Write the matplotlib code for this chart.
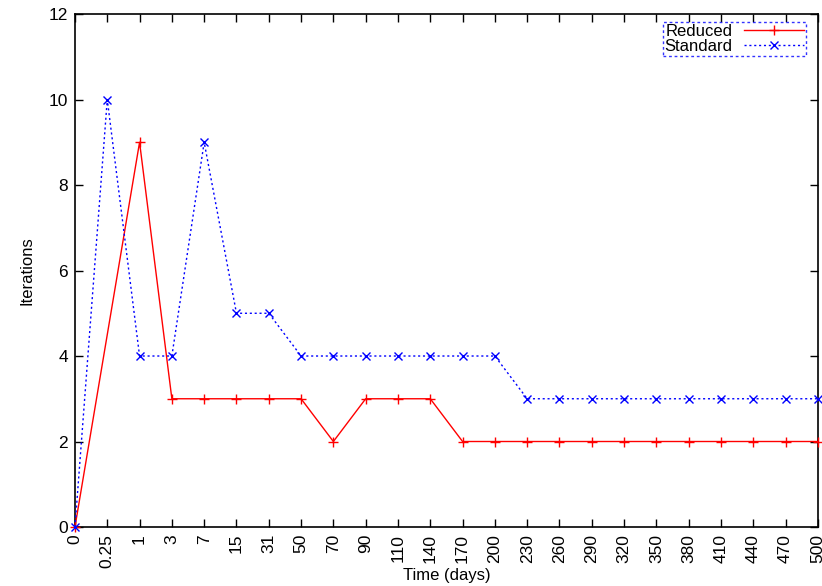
import numpy as np
import matplotlib
matplotlib.use("Agg")
from matplotlib import pyplot as plt

plt.rcParams['font.family'] = ['Liberation Sans', 'DejaVu Sans']

days = ["0", "0.25", "1", "3", "7", "15", "31", "50", "70", "90", "110", "140",
        "170", "200", "230", "260", "290", "320", "350", "380", "410", "440", "470", "500"]

# reduced run has no sample at 0.25 days
reduced_days = ["0", "1", "3", "7", "15", "31", "50", "70", "90", "110", "140",
                "170", "200", "230", "260", "290", "320", "350", "380", "410", "440", "470", "500"]
reduced = [0, 9, 3, 3, 3, 3, 3, 2, 3, 3, 3, 2, 2, 2, 2, 2, 2, 2, 2, 2, 2, 2, 2]
standard = [0, 10, 4, 4, 9, 5, 5, 4, 4, 4, 4, 4, 4, 4, 3, 3, 3, 3, 3, 3, 3, 3, 3, 3]

pos = {d: i for i, d in enumerate(days)}
xr = [pos[d] for d in reduced_days]
xs = np.arange(len(days))

fig = plt.figure(figsize=(8.22, 5.86), dpi=100)
ax = fig.add_axes([0.0912, 0.1007, 0.9038, 0.8753])

ax.plot(xr, reduced, color='#ff0000', lw=1.0, marker='+', ms=6.5, mew=1.0,
        label='Reduced', clip_on=False, zorder=3)
ax.plot(xs, standard, color='#0000ff', lw=1.0, ls=(0, (1.5, 2.0)), marker='x',
        ms=5.5, mew=1.0, label='Standard', clip_on=False, zorder=3)

ax.set_xlim(0, len(days) - 1)
ax.set_ylim(0, 12)
ax.set_xticks(xs)
ax.set_xticklabels(days, rotation=90)
ax.set_yticks(range(0, 13, 2))
ax.tick_params(direction='in', top=True, right=True, length=5.5, width=1,
               labelsize=12.5, pad=5)
for s in ax.spines.values():
    s.set_linewidth(1.2)

ax.set_xlabel('Time (days)', fontsize=12, labelpad=0)
ax.set_ylabel('Iterations', fontsize=12, labelpad=10)

leg = ax.legend(loc='upper right', bbox_to_anchor=(0.984, 0.984), markerfirst=False,
                fontsize=12, fancybox=False, handlelength=3.6, borderpad=0.1,
                labelspacing=0.0, handletextpad=0.7, borderaxespad=0)
frame = leg.get_frame()
frame.set_edgecolor('#0000ff')
frame.set_linestyle((0, (2, 2)))
frame.set_linewidth(1.0)
for t in leg.get_texts():
    t.set_ha('right')

fig.savefig('out.png', dpi=100)
